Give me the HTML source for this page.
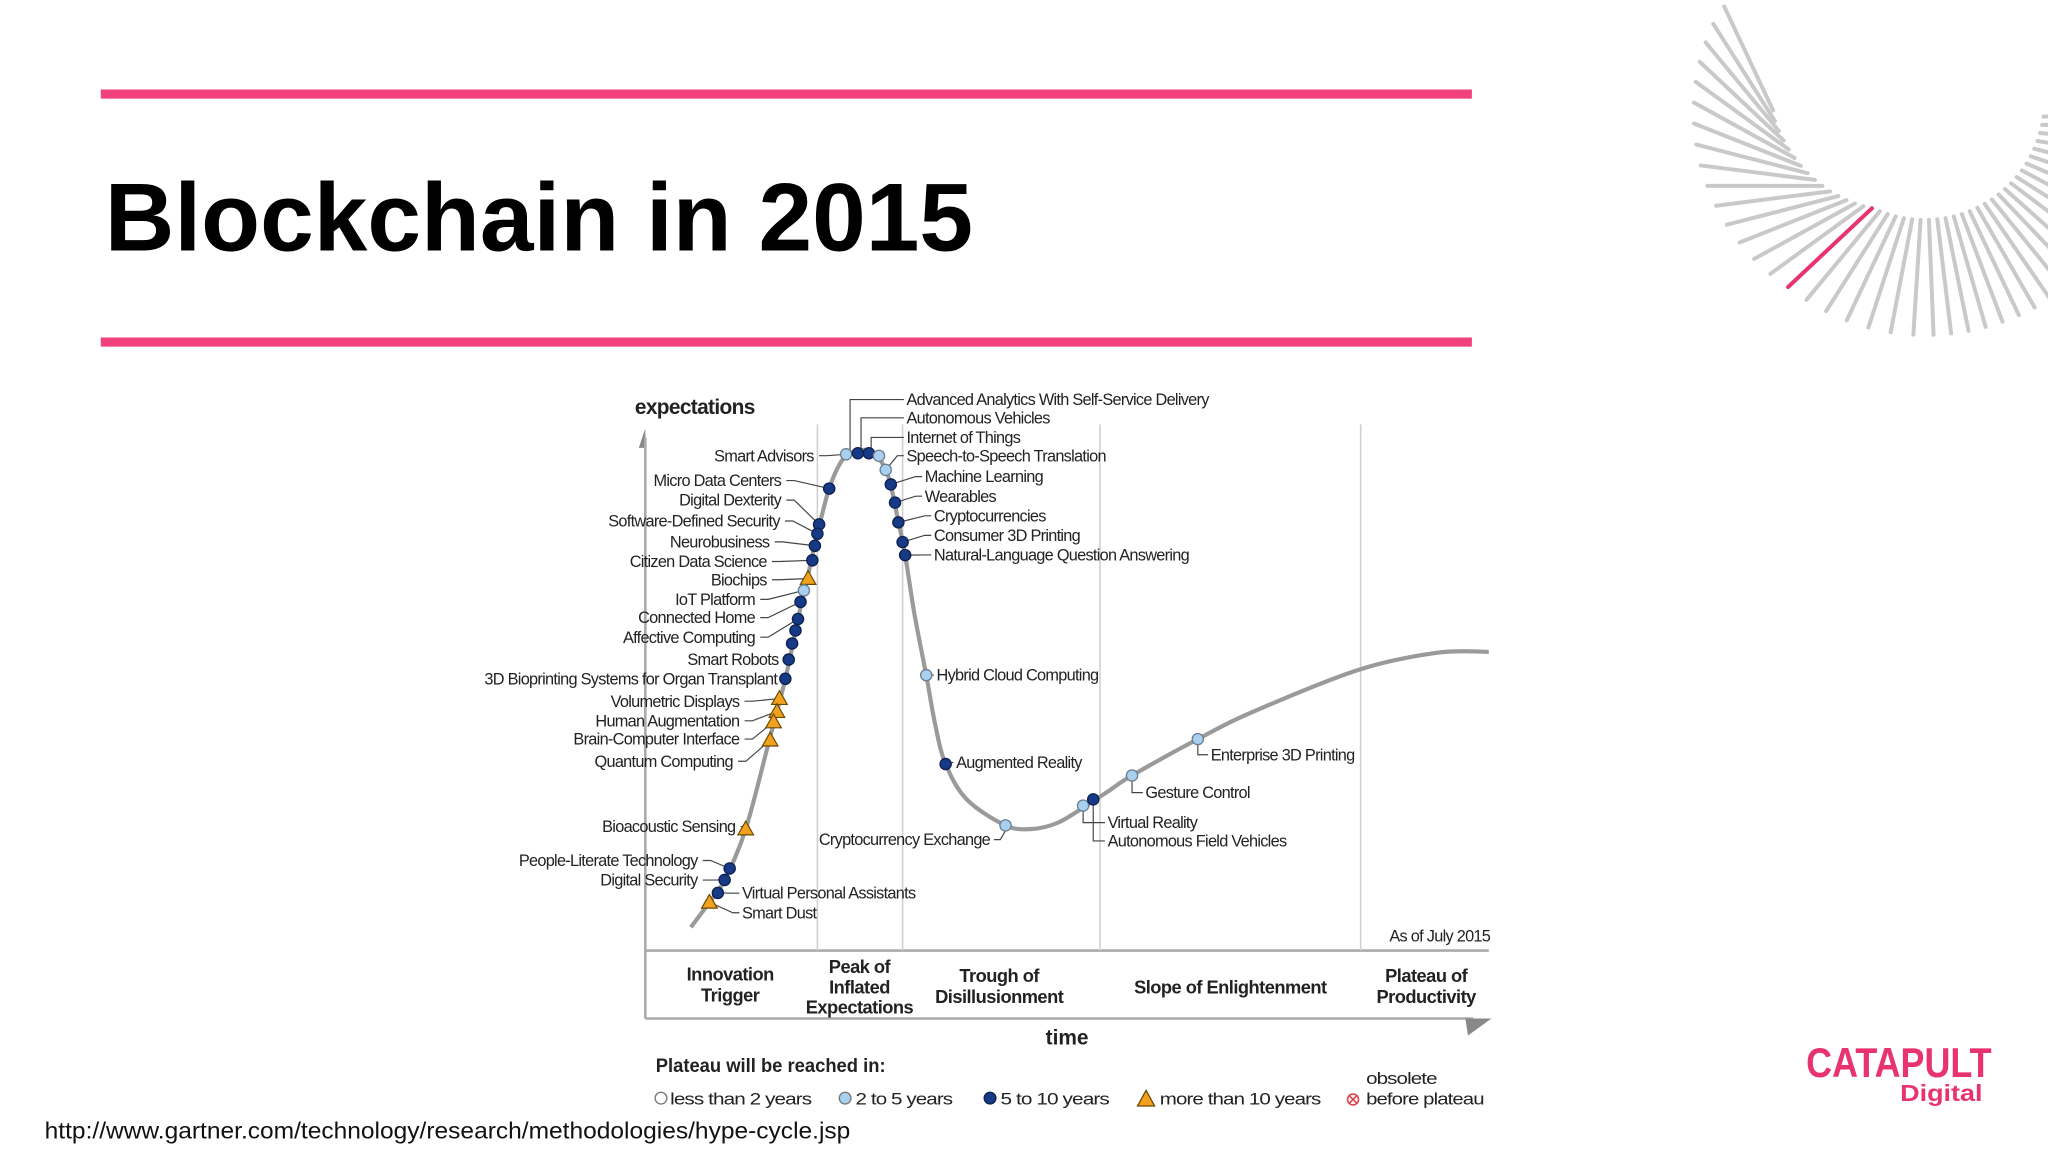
<!DOCTYPE html>
<html><head><meta charset="utf-8"><style>
html,body{margin:0;padding:0;background:#fff;width:2048px;height:1153px;overflow:hidden}
svg{display:block}
.lbl{font-family:"Liberation Sans",sans-serif;font-size:12.5px;letter-spacing:-0.55px;fill:#222}
.ph{font-family:"Liberation Sans",sans-serif;font-size:14px;font-weight:bold;fill:#222;text-anchor:middle;letter-spacing:-0.4px}
</style></head><body>
<svg id="root" width="2048" height="1153" viewBox="0 0 1568 883" xmlns="http://www.w3.org/2000/svg">
  <rect x="0" y="0" width="1568" height="883" fill="#fff"/>
  <g id="burst" transform="scale(0.765625)"></g>
  <line x1="77" y1="72" x2="1127" y2="72" stroke="#f0417b" stroke-width="7"/>
  <text x="80" y="192" font-family="Liberation Sans, sans-serif" font-weight="bold" font-size="74" textLength="665" lengthAdjust="spacingAndGlyphs" fill="#000">Blockchain in 2015</text>
  <line x1="77" y1="262" x2="1127" y2="262" stroke="#f0417b" stroke-width="7"/>

  <g id="chart">
    <text x="486" y="317" font-family="Liberation Sans, sans-serif" font-weight="bold" font-size="16" fill="#222" letter-spacing="-0.5">expectations</text>
    <polygon points="489,343 494,328 494,343" fill="#888"/>
    <line x1="494" y1="335" x2="494" y2="780" stroke="#aaa" stroke-width="2"/>
    <line x1="494" y1="728" x2="1140" y2="728" stroke="#aaa" stroke-width="2"/>
    <line x1="494" y1="780" x2="1128" y2="780" stroke="#aaa" stroke-width="2"/>
    <polygon points="1122,780 1142,780 1124,793" fill="#888"/>
    <g id="dividers"></g>
    <path id="curve" fill="none" stroke="#9a9a9a" stroke-width="3.2"/>
    <g id="leaders"></g>
    <g id="dots"></g>
    <g id="labels"></g>
    <text x="1141" y="721" text-anchor="end" class="lbl" font-size="12">As of July 2015</text>
    <g>
      <text class="ph" x="559" y="751">Innovation</text><text class="ph" x="559" y="767">Trigger</text>
      <text class="ph" x="658" y="745">Peak of</text><text class="ph" x="658" y="761">Inflated</text><text class="ph" x="658" y="776">Expectations</text>
      <text class="ph" x="765" y="752">Trough of</text><text class="ph" x="765" y="768">Disillusionment</text>
      <text class="ph" x="942" y="761">Slope of Enlightenment</text>
      <text class="ph" x="1092" y="752">Plateau of</text><text class="ph" x="1092" y="768">Productivity</text>
    </g>
    <text x="817" y="800" text-anchor="middle" font-family="Liberation Sans, sans-serif" font-weight="bold" font-size="16" fill="#222">time</text>
    <g>
      <text x="502" y="821" font-family="Liberation Sans, sans-serif" font-weight="bold" font-size="14.5" fill="#222" textLength="176" lengthAdjust="spacingAndGlyphs">Plateau will be reached in:</text>
      <circle cx="506" cy="841" r="4.5" fill="#fff" stroke="#777" stroke-width="1"/>
      <text class="lbl" x="513" y="846" font-size="15" textLength="108" lengthAdjust="spacingAndGlyphs">less than 2 years</text>
      <circle cx="647" cy="841" r="4.5" fill="#a9d0ef" stroke="#777" stroke-width="1"/>
      <text class="lbl" x="655" y="846" font-size="15" textLength="74" lengthAdjust="spacingAndGlyphs">2 to 5 years</text>
      <circle cx="758" cy="841" r="4.5" fill="#173a86" stroke="#0d2050" stroke-width="1"/>
      <text class="lbl" x="766" y="846" font-size="15" textLength="83" lengthAdjust="spacingAndGlyphs">5 to 10 years</text>
      <polygon points="871,847 884,847 877.5,835" fill="#f2a11f" stroke="#6a4a00" stroke-width="1"/>
      <text class="lbl" x="888" y="846" font-size="15" textLength="123" lengthAdjust="spacingAndGlyphs">more than 10 years</text>
      <text class="lbl" x="1046" y="830" font-size="15" textLength="54" lengthAdjust="spacingAndGlyphs">obsolete</text>
      <circle cx="1036" cy="842" r="4.2" fill="#fff" stroke="#e0404a" stroke-width="1.2"/>
      <path d="M1033.3,839.3 L1038.7,844.7 M1038.7,839.3 L1033.3,844.7" stroke="#e0404a" stroke-width="1.2"/>
      <text class="lbl" x="1046" y="846" font-size="15" textLength="90" lengthAdjust="spacingAndGlyphs">before plateau</text>
    </g>
  </g>

  <text x="34" y="872" font-family="Liberation Sans, sans-serif" font-size="17.5" fill="#111" textLength="617" lengthAdjust="spacingAndGlyphs">http://www.gartner.com/technology/research/methodologies/hype-cycle.jsp</text>
  <g>
    <text x="1383" y="825" font-family="Liberation Sans, sans-serif" font-weight="bold" font-size="32" fill="#e8336e" textLength="142" lengthAdjust="spacingAndGlyphs">CATAPULT</text>
    <text x="1455" y="843" font-family="Liberation Sans, sans-serif" font-weight="bold" font-size="18" fill="#e8336e" textLength="63" lengthAdjust="spacingAndGlyphs">Digital</text>
  </g>
</svg>
<script>
// ---- chart data ----
const curveT = [5.4,7.6,9.4,11.9,14.7,16.6,18.1,19.2,20.4,21.8,23.4,25.2,27.2,28.8,29.7,30.8,31.9,33.3,34.4,35.6,38.1,42.7,45.8,48.9,52.0,55.1,57.7,65.5,72.1,84.5,93.8,100];
const curveE = [4.5,9.3,13.6,23.4,40.5,52.3,63.8,71.6,80.2,88.9,94.5,96.2,95.7,91.2,84.9,76.1,64.8,53.0,43.2,35.9,29.1,24.1,23.4,24.6,27.6,30.9,33.7,40.7,46.0,54.0,57.3,57.5];
const phaseBounds = [20.4,30.5,53.9,84.8];
const techNames = ["Smart Advisors","Micro Data Centers","Digital Dexterity","Software-Defined Security","Neurobusiness","Citizen Data Science","Biochips","IoT Platform","Connected Home","Affective  Computing","","","Smart Robots","3D Bioprinting Systems for Organ Transplant","Volumetric Displays","Human Augmentation","Brain-Computer Interface","Quantum Computing","Bioacoustic Sensing","People-Literate Technology","Digital Security","Virtual Personal Assistants","Smart Dust","Advanced Analytics With Self-Service Delivery","Autonomous Vehicles","Internet of Things","Speech-to-Speech Translation","Machine Learning","Wearables","Cryptocurrencies","Consumer 3D Printing","Natural-Language Question Answering","Hybrid Cloud Computing","Augmented Reality","Cryptocurrency Exchange","Virtual Reality","Autonomous Field Vehicles","Gesture Control","Enterprise 3D Printing"];
const techT = [23.8,21.8,20.6,20.4,20.1,19.8,19.3,18.8,18.4,18.1,17.8,17.4,17.0,16.6,15.9,15.6,15.2,14.8,11.9,10.0,9.4,8.6,7.6,25.2,26.5,27.7,28.5,29.1,29.6,30.0,30.5,30.8,33.3,35.6,42.7,51.9,53.1,57.7,65.5];
const techE = [95.5,88.9,82.0,80.2,77.9,75.1,71.6,69.3,67.1,63.8,61.6,59.1,56.0,52.3,48.5,46.0,44.0,40.5,23.4,15.8,13.6,11.1,9.3,95.7,95.7,95.2,92.5,89.7,86.2,82.4,78.6,76.1,53.0,35.9,24.1,27.9,29.1,33.7,40.7];
const techKind = ["l","d","d","d","d","d","t","l","d","d","d","d","d","d","t","t","t","t","t","d","d","d","t","d","d","l","l","d","d","d","d","d","l","d","l","l","d","l","l"];
// label layout (not data)
const labSide = ["L","L","L","L","L","L","L","L","L","L","N","N","L","L","L","L","L","L","L","L","L","R","R","T","T","T","R","R","R","R","R","R","R","R","LB","RB","RB","RB","RB"];
const labX = [623,598,598,597,589,587,587,578,578,578,0,0,596,595,566,566,566,561,563,534,534,568,568,694,694,694,694,708,708,715,715,715,717,732,758,848,848,877,927];
const labY = [349,368,383,399,415,430,444,459,473,488,0,0,505,520,537,552,566,583,633,659,674,684,699,306,320,335,349,365,380,395,410,425,517,584,643,630,644,607,578];

const X0=494, X1=1140, Y0=728, Y1=330;
const xScale = t => X0 + t/100*(X1-X0);
const yScale = e => Y0 - e/100*(Y0-Y1);
const NS="http://www.w3.org/2000/svg";
function mk(tag, attrs){const el=document.createElementNS(NS,tag);for(const k in attrs)el.setAttribute(k,attrs[k]);return el;}

const dv=document.getElementById('dividers');
phaseBounds.forEach(b=>{
  const l=mk('line',{x1:xScale(b),y1:325,x2:xScale(b),y2:728,stroke:'#d0d0d0','stroke-width':1.2});
  
  
  dv.appendChild(l);
});

const P=curveT.map((t,i)=>[xScale(t),yScale(curveE[i])]);
let d=`M${P[0][0]},${P[0][1]}`;
for(let i=0;i<P.length-1;i++){
  const p0=P[Math.max(0,i-1)],p1=P[i],p2=P[i+1],p3=P[Math.min(P.length-1,i+2)];
  const c1=[p1[0]+(p2[0]-p0[0])/6,p1[1]+(p2[1]-p0[1])/6];
  const c2=[p2[0]-(p3[0]-p1[0])/6,p2[1]-(p3[1]-p1[1])/6];
  d+=` C${c1[0]},${c1[1]} ${c2[0]},${c2[1]} ${p2[0]},${p2[1]}`;
}
document.getElementById('curve').setAttribute('d',d);

const gd=document.getElementById('dots'), gl=document.getElementById('labels'), gk=document.getElementById('leaders');
techNames.forEach((n,i)=>{
  const x=xScale(techT[i]), y=yScale(techE[i]);
  let m;
  if(techKind[i]==='t'){
    m=mk('polygon',{points:`${x-6},${y+4.5} ${x+6},${y+4.5} ${x},${y-6}`,fill:'#f2a11f',stroke:'#6a4a00','stroke-width':0.9});
  } else {
    m=mk('circle',{cx:x,cy:y,r:4.3,fill:techKind[i]==='d'?'#173a86':'#a9d0ef',stroke:techKind[i]==='d'?'#0d2050':'#6b7f92','stroke-width':1});
  }
  
  
  gd.appendChild(m);
  const s=labSide[i]; if(s==='N')return;
  const lx=labX[i], ly=labY[i];
  let pts, anchor='start', tx=lx;
  if(s==='L'){pts=`${lx+4},${ly} ${lx+10},${ly} ${x},${y}`;anchor='end';}
  else if(s==='R'){pts=`${x},${y} ${lx-7},${ly} ${lx-2},${ly}`;}
  else if(s==='T'){pts=`${x-6},${y} ${x-6},${ly} ${lx-2},${ly}`;}
  else if(s==='RB'){pts=`${x},${y+4} ${x},${ly} ${lx-2},${ly}`;}
  else {pts=`${x},${y+4} ${x-4},${ly} ${lx+3},${ly}`;anchor='end';}
  const pl=mk('polyline',{points:pts,fill:'none',stroke:'#444','stroke-width':0.9});
  
  
  gk.appendChild(pl);
  const t=mk('text',{x:tx,y:ly+4.3,'text-anchor':anchor,class:'lbl'});
  t.textContent=n;
  
  
  gl.appendChild(t);
});

const gb=document.getElementById('burst');
const C=[1925,100];
for(let a=8;a<=178;a+=4){
  const r=a<=115?120:120+Math.min(32,(a-115)*0.55);
  const rad=a*Math.PI/180;
  const ix=C[0]+r*Math.cos(rad), iy=C[1]+r*Math.sin(rad);
  const tilt=a>90?0.8*(a-90):0.15*(a-90);
  const dr=(a+tilt)*Math.PI/180, L=115;
  const pink=(a===116);
  const ln=mk('line',{x1:ix,y1:iy,x2:ix+L*Math.cos(dr),y2:iy+L*Math.sin(dr),stroke:pink?'#e8336e':'#c9c9c9','stroke-width':4,'stroke-linecap':'round'});
  
  
  gb.appendChild(ln);
}
</script>
</body></html>
